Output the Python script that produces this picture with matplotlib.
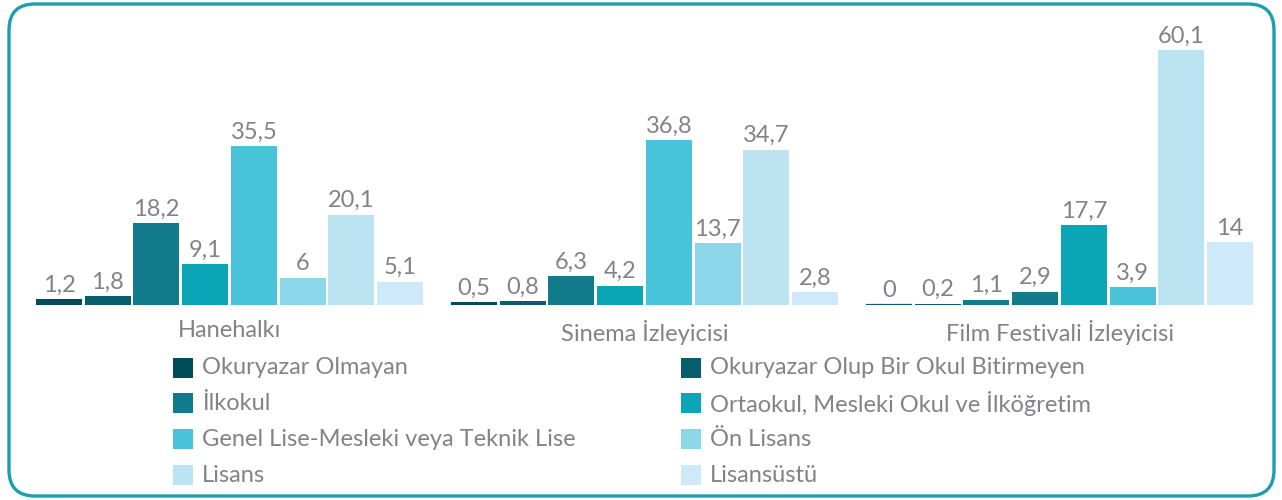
import matplotlib
matplotlib.use("Agg")
import matplotlib.pyplot as plt
from matplotlib.patches import FancyBboxPatch, Rectangle
import numpy as np

plt.rcParams['font.family'] = ['Lato', 'DejaVu Sans']

groups = ["Hanehalkı", "Sinema İzleyicisi", "Film Festivali İzleyicisi"]
series = ["Okuryazar Olmayan", "Okuryazar Olup Bir Okul Bitirmeyen", "İlkokul",
          "Ortaokul, Mesleki Okul ve İlköğretim", "Genel Lise-Mesleki veya Teknik Lise",
          "Ön Lisans", "Lisans", "Lisansüstü"]
hanehalki = [1.2, 1.8, 18.2, 9.1, 35.5, 6, 20.1, 5.1]
sinema = [0.5, 0.8, 6.3, 4.2, 36.8, 13.7, 34.7, 2.8]
festival = [0, 0.2, 1.1, 2.9, 17.7, 3.9, 60.1, 14]
labels_h = ["1,2", "1,8", "18,2", "9,1", "35,5", "6", "20,1", "5,1"]
labels_s = ["0,5", "0,8", "6,3", "4,2", "36,8", "13,7", "34,7", "2,8"]
labels_f = ["0", "0,2", "1,1", "2,9", "17,7", "3,9", "60,1", "14"]

series_colors = ["#004c5a", "#075f6d", "#117b8c", "#0ba5b5",
                 "#48c3d9", "#8cd6e9", "#bbe3f1", "#cde9fa"]
# colours as they appear in the reference for each group
group_colors = [series_colors, series_colors,
                ["#075f6d", "#075f6d", "#117b8c", "#117b8c",
                 "#0ba5b5", "#48c3d9", "#bbe3f1", "#cde9fa"]]

values = [hanehalki, sinema, festival]
value_labels = [labels_h, labels_s, labels_f]

W, H = 1282, 500
fig = plt.figure(figsize=(W / 100, H / 100), dpi=100)

# axes geometry in pixels
ax_left, ax_right = 22, 1267
ax_top, ax_bottom = 50, 304.5
ax = fig.add_axes([ax_left / W, 1 - ax_bottom / H, (ax_right - ax_left) / W, (ax_bottom - ax_top) / H])
ymax = 57
ax.set_xlim(-0.5, 2.5)
ax.set_ylim(0, ymax)

step = 0.1173
width = 0.1108
text_color = "#828288"
fs = 17
n = len(series)
for gi, (vals, labs, cols) in enumerate(zip(values, value_labels, group_colors)):
    for si in range(n):
        x = gi + (si - (n - 1) / 2) * step
        v = vals[si]
        ax.bar(x, v, width=width, color=cols[si],
               edgecolor=cols[si], linewidth=1.6 if v == 0 else 0)
        ax.annotate(labs[si], (x, min(v, ymax)), xytext=(0, 2.5), textcoords="offset points",
                    ha="center", va="bottom", fontsize=fs, color=text_color,
                    annotation_clip=False)

ax.set_xticks(range(len(groups)))
ax.set_xticklabels(groups, fontsize=fs, color=text_color)
ax.tick_params(axis="x", length=0, pad=11)
ax.set_yticks([])
for s in ax.spines.values():
    s.set_visible(False)

# overlay in pixel coordinates for frame and legend
ov = fig.add_axes([0, 0, 1, 1])
ov.set_xlim(0, W)
ov.set_ylim(H, 0)
ov.axis("off")
ov.patch.set_alpha(0)
ov.add_patch(FancyBboxPatch((9, 4), 1265, 492, boxstyle="round,pad=0,rounding_size=26",
                            fill=False, edgecolor="#1a9fb0", linewidth=2.4))

col_x = [173, 681]
row_y = [368, 403, 439, 475]
for i, name in enumerate(series):
    r, c = divmod(i, 2)
    ov.add_patch(Rectangle((col_x[c], row_y[r] - 10), 20, 20, color=series_colors[i], linewidth=0))
    ov.text(col_x[c] + 29, row_y[r], name, fontsize=fs, color=text_color, va="center", ha="left")

fig.savefig("out.png", dpi=100)
